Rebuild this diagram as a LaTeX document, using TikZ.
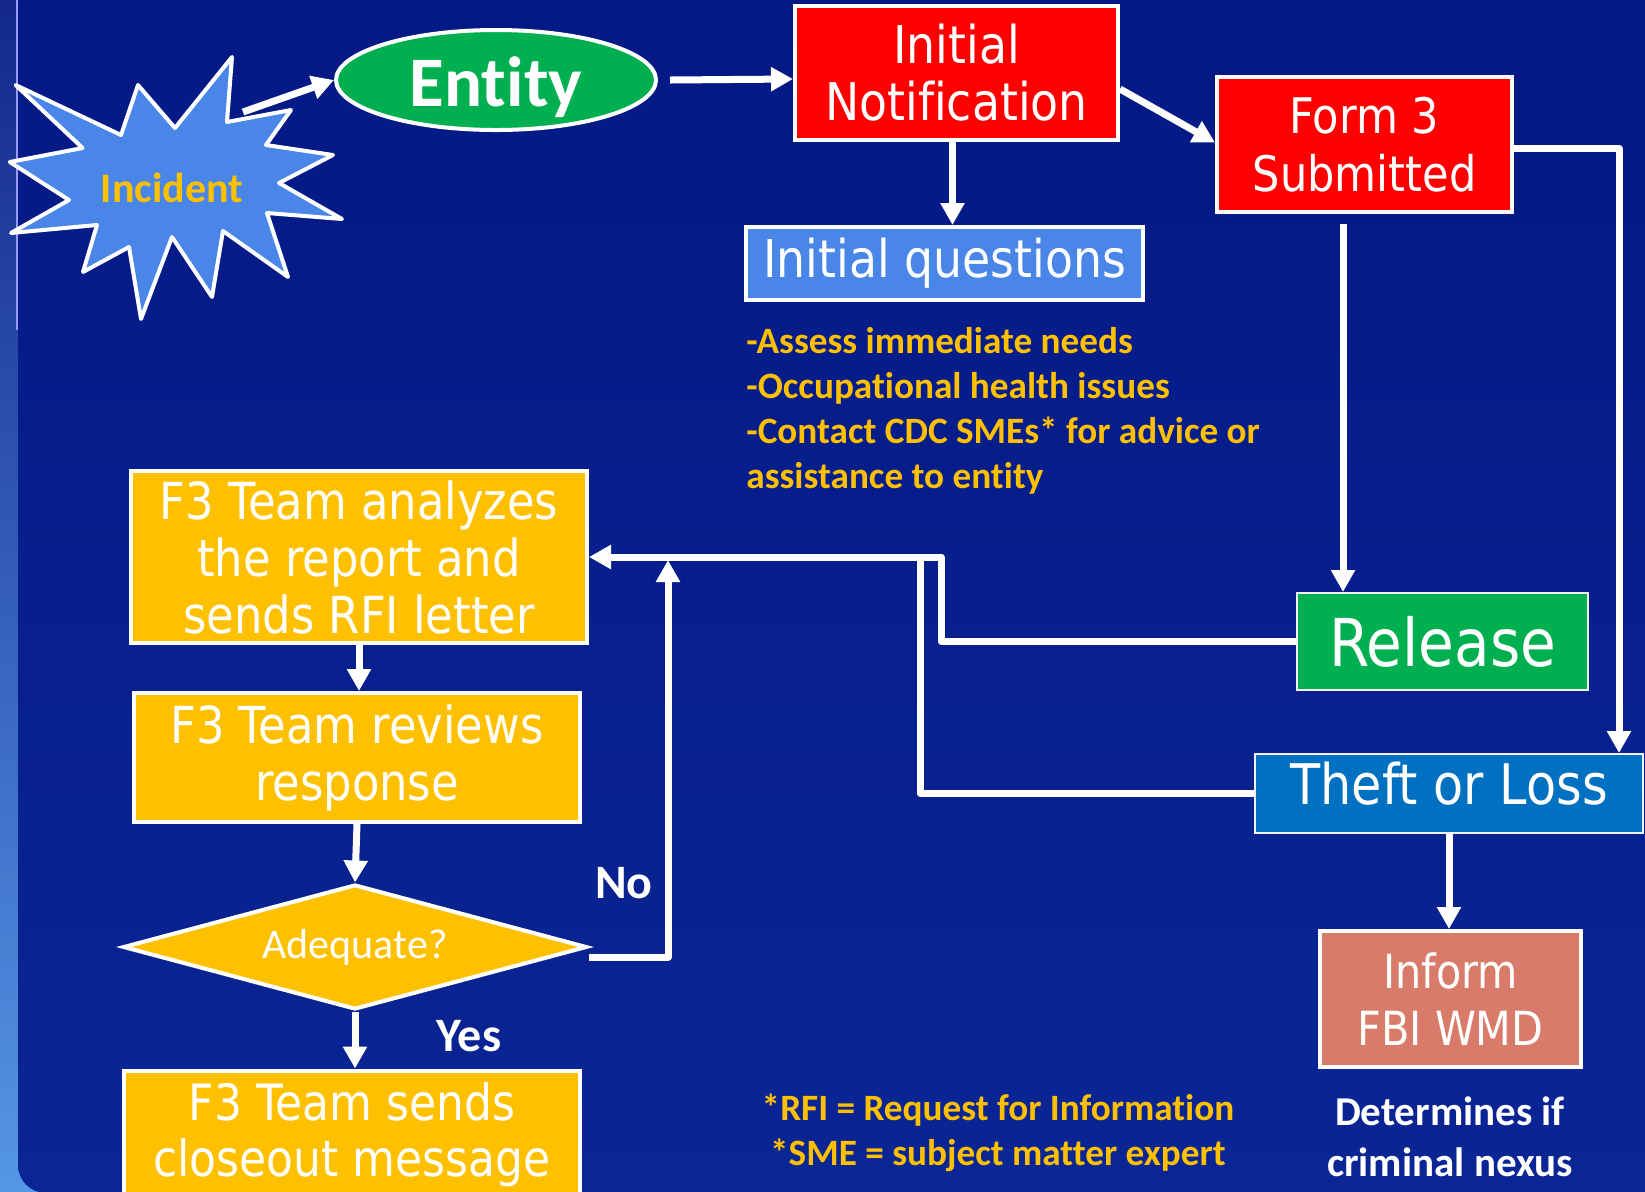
\documentclass[tikz,border=0pt]{standalone}
\usepackage{fontspec}
\usetikzlibrary{shapes.geometric,arrows.meta}
\newfontfamily\tah[FakeStretch=0.88,Ligatures=NoCommon]{DejaVu Sans}
\newfontfamily\calfont[Ligatures=NoCommon]{Carlito}
\definecolor{bgT}{RGB}{3,24,132}
\definecolor{bgB}{RGB}{10,38,148}
\definecolor{lsT}{RGB}{20,40,140}
\definecolor{lsB}{RGB}{85,150,230}
\definecolor{gr}{RGB}{0,176,80}
\definecolor{rd}{RGB}{255,0,0}
\definecolor{orng}{RGB}{255,192,0}
\definecolor{tblue}{RGB}{0,112,192}
\definecolor{cblue}{RGB}{74,134,232}
\definecolor{salmon}{RGB}{217,123,106}
\begin{document}
\begin{tikzpicture}[x=0.5pt,y=-0.5pt,
  box/.style={draw=white, line width=2pt, inner sep=0pt, align=center, text=white},
  thinbox/.style={box, draw=white!90!gray, line width=1pt},
  conn/.style={white, line width=3.5pt, line join=round},
  arr/.style={conn, -{Triangle[length=11pt,width=11.5pt]}},
  lbl/.style={inner sep=0pt, text=white, font=\calfont\bfseries\fontsize{24}{28}\selectfont},
  note/.style={inner sep=0pt, text=orng, font=\calfont\bfseries\fontsize{18.6}{22.5}\selectfont}]
\useasboundingbox (0,0) rectangle (1645,1191);
% background
\shade[top color=lsT, bottom color=lsB] (0,0) rectangle (40,1191);
\shade[top color=bgT, bottom color=bgB, rounded corners=14pt] (18,-40) rectangle (1700,1193);
\draw[white!60!blue, line width=1pt] (17,0) -- (17,330);

% Incident starburst
\draw[white, line width=2pt, fill=cblue, line join=round]
 (15.6,85) -- (82.6,148) -- (9.8,162) -- (69,200) -- (11,233) -- (97,225) -- (83,272) -- (129,247)
 -- (141,319) -- (172,237) -- (212,297) -- (223,231) -- (288,277) -- (267,213) -- (342,219)
 -- (279,183) -- (333,155) -- (266,145) -- (291,110) -- (227,122) -- (232,57) -- (175,128)
 -- (138,85) -- (121,135) -- cycle;
\node[inner sep=0pt, text=orng, font=\calfont\bfseries\fontsize{21}{24}\selectfont] (inc) at (172,188) {Incident};
\coordinate (incTip) at (243,112);

% nodes
\node[box, ellipse, fill=gr, minimum width=160pt, minimum height=50pt,
      font=\calfont\bfseries\fontsize{35.5}{40}\selectfont] (ent) at (496,80) {\raisebox{-3.5pt}[\height][\depth]{Entity}};
\node[box, fill=rd, minimum width=161.5pt, minimum height=67pt,
      font=\tah\fontsize{26}{28.5}\selectfont] (notif) at (956.5,73) {Initial\\Notification};
\node[box, fill=rd, minimum width=147.5pt, minimum height=67.5pt,
      font=\tah\fontsize{24.5}{29}\selectfont] (form) at (1364.5,144.5) {Form 3\\Submitted};
\node[box, fill=cblue, minimum width=198.5pt, minimum height=36.5pt,
      font=\tah\fontsize{26}{30}\selectfont] (iq) at (944.5,263.5) {\raisebox{-2pt}{Initial questions}};
\node[note, anchor=north west, align=left] (qtext) at (746,327)
  {-Assess immediate needs\\-Occupational health issues\\-Contact CDC SMEs* for advice or\\assistance to entity};
\node[thinbox, fill=gr, minimum width=145.5pt, minimum height=48.5pt,
      font=\tah\fontsize{33}{38}\selectfont] (rel) at (1442.5,641.5) {Release};
\node[thinbox, fill=tblue, minimum width=194pt, minimum height=39.5pt,
      font=\tah\fontsize{28}{32}\selectfont] (theft) at (1449,793.5) {\raisebox{10pt}{Theft or Loss}};
\node[box, fill=salmon, minimum width=130.5pt, minimum height=68pt,
      font=\tah\fontsize{23.5}{28.5}\selectfont] (inform) at (1450.5,999) {Inform\\FBI WMD};
\node[inner sep=0pt, align=center, text=white, font=\calfont\bfseries\fontsize{20.5}{25.5}\selectfont]
      (det) at (1450,1137) {Determines if\\criminal nexus};
\node[box, fill=orng, minimum width=228pt, minimum height=86pt,
      font=\tah\fontsize{25.5}{28.5}\selectfont] (ana) at (359,557) {F3 Team analyzes\\the report and\\sends RFI letter};
\node[box, fill=orng, minimum width=223pt, minimum height=64.5pt,
      font=\tah\fontsize{25.5}{28.5}\selectfont] (rev) at (357,757.5) {F3 Team reviews\\response};
\node[box, diamond, shape aspect=3.7, fill=orng, minimum width=232pt, minimum height=62.5pt,
      font=\calfont\fontsize{21}{24}\selectfont] (adq) at (355,947) {Adequate?};
\node[box, fill=orng, minimum width=228pt, minimum height=64.5pt,
      font=\tah\fontsize{25}{28}\selectfont] (sends) at (352,1135) {F3 Team sends\\closeout message};
\node[note, align=center] (foot) at (998,1133) {*RFI = Request for Information\\*SME = subject matter expert};
\node[lbl] (no) at (624,883) {No};
\node[lbl] (yes) at (469,1036) {Yes};

% junction coordinates
\coordinate (fx) at (1343,0);
\coordinate (j1) at (941,557);
\coordinate (j2) at (920,557);
\coordinate (j3) at (668,560);

% connectors
\draw[arr] (incTip) -- (ent.west);
\draw[arr] ([xshift=6pt]ent.east) -- ([yshift=-3pt]notif.west);
\draw[arr] ([yshift=-8pt]notif.east) -- ([yshift=1pt]form.west);
\draw[arr] ([xshift=-2pt]notif.south) -- ([xshift=-2pt]notif.south |- iq.north);
\draw[arr] ([yshift=-5pt]form.south -| fx) -- (rel.north -| fx);
\draw[arr] ([yshift=-2pt]form.east) -| ([xshift=85pt]theft.north);
\draw[arr] (theft.south) -- (theft.south |- inform.north);
\draw[arr] (rel.west) -| (j1) -- (ana.east);
\draw[conn] (theft.west) -| (j2);
\draw[arr] (ana.south) -- (ana.south |- rev.north);
\draw[arr] (rev.south) -- (adq.north);
\draw[arr] (adq.south) -- (adq.south |- sends.north);
\draw[arr] ([yshift=-5pt]adq.east) -| (j3);
\end{tikzpicture}
\end{document}
